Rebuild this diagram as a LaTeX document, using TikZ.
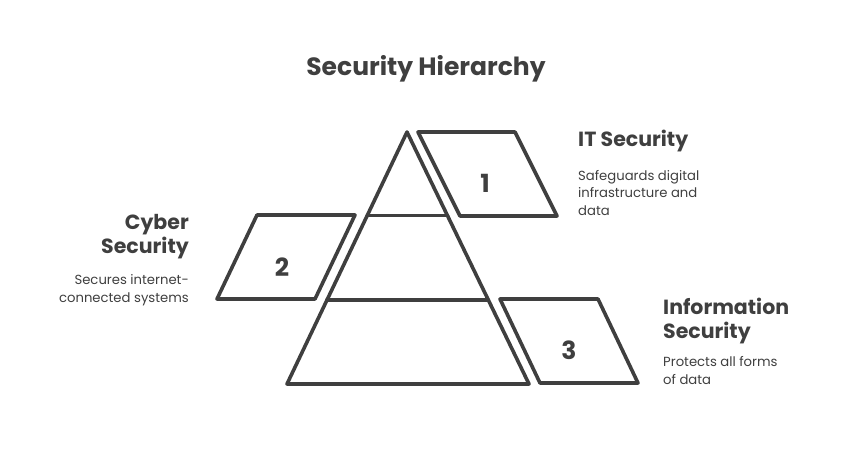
\documentclass[tikz,border=0pt]{standalone}
\usepackage{fontspec}
\setmainfont{Poppins}
\usetikzlibrary{calc}
\definecolor{ink}{HTML}{3F3F3F}
\begin{document}
\begin{tikzpicture}
        [x=1pt, y=-1pt,
        outline/.style={ink, line width=3.6pt, line join=round, line cap=round},
        number/.style={ink, font=\fontsize{25}{25}\selectfont\bfseries},
        heading/.style={ink, font=\fontsize{20.5}{24}\selectfont\bfseries, inner sep=0pt},
        body/.style={ink, font=\fontsize{13.2}{17.5}\selectfont, inner sep=0pt},
        inner sep=0pt]

        \useasboundingbox (0,0) rectangle (852,456);

        \node[ink, font=\fontsize{25}{25}\selectfont\bfseries] (title) at (426,69) {Security Hierarchy};

        % Pyramid: apex and base corners
        \coordinate (apex) at (407,132);
        \coordinate (BL) at (287,384);
        \coordinate (BR) at (529,384);

        \draw[outline] (apex) -- (BL) -- (BR) -- cycle;
        % the two levels of the pyramid
        \draw[outline] ($(apex)!0.332!(BL)$) -- ($(apex)!0.332!(BR)$);
        \draw[outline] ($(apex)!0.667!(BL)$) -- ($(apex)!0.667!(BR)$);

        % Box 1: right of the top level
        \coordinate (P1a) at (418,132);
        \coordinate (P1b) at (515,132);
        \coordinate (P1c) at (557,216);
        \coordinate (P1d) at (460,216);
        \draw[outline] (P1a) -- (P1b) -- (P1c) -- (P1d) -- cycle;
        \node[number] (n1) at (485,183) {1};

        % Box 2: left of the middle level
        \coordinate (P2a) at (257,215);
        \coordinate (P2b) at (355,215);
        \coordinate (P2c) at (315,299);
        \coordinate (P2d) at (217,299);
        \draw[outline] (P2a) -- (P2b) -- (P2c) -- (P2d) -- cycle;
        \node[number] (n2) at (282,267) {2};

        % Box 3: right of the bottom level
        \coordinate (P3a) at (500,299);
        \coordinate (P3b) at (598,299);
        \coordinate (P3c) at (638,383);
        \coordinate (P3d) at (540,383);
        \draw[outline] (P3a) -- (P3b) -- (P3c) -- (P3d) -- cycle;
        \node[number] (n3) at (569,350) {3};

        % Texts (base anchor = baseline of the last line)
        \node[heading, anchor=base west] (itHead) at (578,146) {IT Security};
        \node[body, anchor=base west, align=left] (itText) at (578,215)
            {Safeguards digital\\infrastructure and\\data};

        \node[heading, anchor=base east, align=right] (cyHead) at (189,253) {Cyber\\Security};
        \node[body, anchor=base east, align=right] (cyText) at (189,302)
            {Secures internet-\\connected systems};

        \node[heading, anchor=base west, align=left] (isHead) at (663,338) {Information\\Security};
        \node[body, anchor=base west, align=left] (isText) at (663,384)
            {Protects all forms\\of data};
\end{tikzpicture}
\end{document}
